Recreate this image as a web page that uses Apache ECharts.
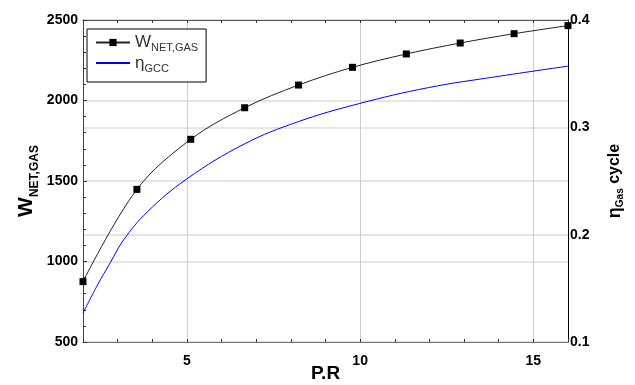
<!DOCTYPE html>
<html>
<head>
<meta charset="utf-8">
<script src="https://cdn.jsdelivr.net/npm/echarts@6/dist/echarts.min.js"></script>
<style>
  html, body { margin: 0; padding: 0; background: #fff; }
  #chart { width: 635px; height: 385px; }
</style>
</head>
<body>
<div id="chart"></div>
<script>
// pressure ratio where the W_NET,GAS markers sit
const prWork = [2, 3.556, 5.111, 6.667, 8.222, 9.778, 11.333, 12.889, 14.444, 16]
const wNetGas = [875, 1448, 1759, 1955, 2096, 2206, 2289, 2357, 2415, 2465]

// efficiency curve (no markers)
const prEta = [2, 2.4, 2.79, 3.17, 3.85, 5.0, 6.66, 8.19, 9.96, 11.97, 13.89, 16]
const etaGcc = [0.127, 0.152, 0.174, 0.195, 0.221, 0.252, 0.2845, 0.305, 0.322, 0.337, 0.347, 0.357]

const xLabels = [5, 10, 15]

const font = 'Liberation Sans, Arial, sans-serif'
const toPairs = (xs, ys) => xs.map((x, i) => [x, ys[i]])

const chart = echarts.init(document.getElementById('chart'))

const hidden = 'rgba(0,0,0,0)'
// x split lines only at 5, 10, 15 (ticks run from 2 every 1)
const xSplitColors = [hidden, hidden, hidden, '#cccccc', hidden]

const labelStyle = { color: '#000', fontSize: 14, fontWeight: 'bold', fontFamily: font }

chart.setOption({
  animation: false,
  backgroundColor: '#fff',
  grid: { left: 83, right: 67, top: 20, bottom: 43, containLabel: false, outerBoundsMode: 'none' },
  legend: {
    orient: 'vertical',
    left: 87,
    top: 29,
    padding: [5, 8, 8, 8],
    itemGap: 1,
    itemWidth: 34,
    itemHeight: 9,
    borderColor: '#000',
    borderWidth: 1,
    backgroundColor: '#fff',
    formatter(name) {
      return name === 'WNET,GAS' ? '{w|W}{s|NET,GAS}' : '{w|η}{s|GCC}'
    },
    textStyle: {
      fontFamily: font,
      rich: {
        w: { fontSize: 17, lineHeight: 22, color: '#333', fontFamily: font },
        s: { fontSize: 11, lineHeight: 22, height: 11, verticalAlign: 'bottom', color: '#333', fontFamily: font },
      },
    },
    data: ['WNET,GAS', { name: 'ηGCC', itemStyle: { opacity: 0 } }],
  },
  xAxis: [
    {
      type: 'value',
      position: 'bottom',
      min: 2,
      max: 16,
      interval: 1,
      name: 'P.R',
      nameLocation: 'middle',
      nameGap: 22,
      nameMoveOverlap: false,
      nameTextStyle: { color: '#000', fontSize: 19, fontWeight: 'bold', fontFamily: font },
      axisLine: { show: true, lineStyle: { color: '#777', width: 1 } },
      axisTick: { show: true, inside: true, length: 3, lineStyle: { color: '#333' } },
      axisLabel: {
        ...labelStyle,
        margin: 12,
        formatter: (v) => (xLabels.includes(v) ? String(v) : ''),
      },
      splitLine: { show: true, lineStyle: { color: xSplitColors, width: 1 } },
    },
    {
      type: 'value',
      position: 'top',
      min: 2,
      max: 16,
      interval: 1,
      axisLine: { show: true, lineStyle: { color: '#555', width: 1 } },
      axisTick: { show: true, inside: true, length: 3, lineStyle: { color: '#333' } },
      axisLabel: { show: false },
      splitLine: { show: false },
    },
  ],
  yAxis: [
    {
      type: 'value',
      position: 'left',
      min: 500,
      max: 2500,
      interval: 500,
      name: '{w|W}{s|NET,GAS}',
      nameLocation: 'middle',
      nameRotate: 90,
      nameGap: 42,
      nameMoveOverlap: false,
      nameTextStyle: {
        fontFamily: font,
        rich: {
          w: { fontSize: 21, fontWeight: 'bold', lineHeight: 30, color: '#000', fontFamily: font },
          s: { fontSize: 12, fontWeight: 'bold', lineHeight: 30, height: 12, verticalAlign: 'bottom', color: '#000', fontFamily: font },
        },
      },
      axisLine: { show: true, lineStyle: { color: '#444', width: 1 } },
      axisTick: { show: true, inside: true, length: 4, lineStyle: { color: '#333' } },
      minorTick: { show: true, splitNumber: 5, length: 3, lineStyle: { color: '#333' } },
      axisLabel: { ...labelStyle, margin: 5, formatter: (v) => String(v) },
      splitLine: { show: true, lineStyle: { color: '#dcdcdc', width: 1.5 } },
    },
    {
      type: 'value',
      position: 'right',
      min: 0.1,
      max: 0.4,
      interval: 0.1,
      name: '{e|η}{g|Gas}{c| cycle}',
      nameLocation: 'middle',
      nameRotate: 90,
      nameGap: 35,
      nameMoveOverlap: false,
      nameTextStyle: {
        fontFamily: font,
        rich: {
          e: { fontSize: 18, fontWeight: 'bold', lineHeight: 24, color: '#000', fontFamily: font },
          g: { fontSize: 10, fontWeight: 'bold', lineHeight: 24, height: 14, verticalAlign: 'bottom', color: '#000', fontFamily: font },
          c: { fontSize: 16, fontWeight: 'bold', lineHeight: 24, color: '#000', fontFamily: font },
        },
      },
      axisLine: { show: true, lineStyle: { color: '#000', width: 1 } },
      axisTick: { show: false },
      axisLabel: { ...labelStyle, margin: 2, formatter: (v) => v.toFixed(1) },
      splitLine: { show: true, lineStyle: { color: '#dcdcdc', width: 1.5 } },
    },
  ],
  series: [
    {
      name: 'WNET,GAS',
      type: 'line',
      xAxisIndex: 0,
      yAxisIndex: 0,
      data: toPairs(prWork, wNetGas),
      smooth: 0.35,
      symbol: 'rect',
      symbolSize: 7,
      itemStyle: { color: '#000' },
      lineStyle: { color: '#222', width: 1 },
      z: 3,
    },
    {
      name: 'ηGCC',
      type: 'line',
      xAxisIndex: 0,
      yAxisIndex: 1,
      data: toPairs(prEta, etaGcc),
      smooth: 0.4,
      symbol: 'none',
      showSymbol: false,
      itemStyle: { color: '#0000ff' },
      lineStyle: { color: '#0000ff', width: 1 },
      z: 2,
    },
  ],
})
</script>
</body>
</html>
